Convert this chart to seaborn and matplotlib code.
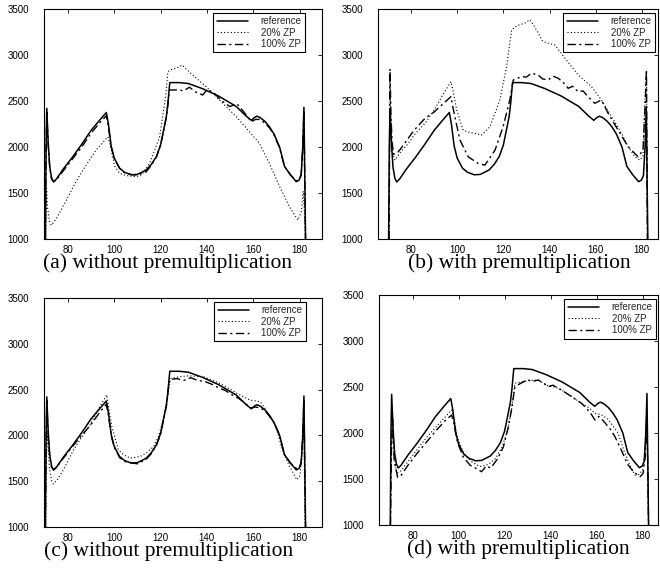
import matplotlib
matplotlib.use("Agg")
import matplotlib.pyplot as plt
import seaborn as sns

# ---------------- data ----------------
REF_X = [70.3, 70.6, 70.9, 71.5, 72.2, 73.0, 73.8, 75.0, 78.0, 82.0, 86.0, 90.0, 94.0, 96.6, 97.5, 98.7, 100.0,
         102.3, 104.5, 107.4, 110.0, 113.8, 116.0, 118.2, 120.0, 121.3, 122.5, 123.2, 123.7, 124.0, 128.0, 132.0,
         138.0, 145.0, 152.7, 157.0, 159.2, 160.5, 161.6, 163.0, 165.0, 167.0, 169.0, 171.4, 173.5, 176.0, 178.6,
         179.8, 180.7, 181.4, 181.9, 182.3, 182.6]
REF_Y = [1000, 2000, 2420, 2050, 1780, 1660, 1620, 1650, 1760, 1890, 2030, 2180, 2300, 2375, 2250, 2010, 1880,
         1770, 1725, 1698, 1702, 1750, 1810, 1895, 2020, 2180, 2330, 2480, 2620, 2700, 2700, 2690,
         2635, 2555, 2440, 2335, 2290, 2320, 2335, 2320, 2280, 2220, 2140, 2000, 1790, 1700, 1623,
         1640, 1690, 2000, 2430, 1600, 1000]

# (a) without premultiplication
A20_X = [70.4, 70.8, 71.2, 72.0, 72.8, 75.0, 79.3, 83.0, 86.5, 92.3, 97.3, 98.5, 100.2, 102.3, 105.0, 109.5, 112.0,
         115.3, 119.6, 122.2, 123.2, 124.6, 127.0, 129.4, 131.0, 134.0, 139.7, 145.5, 152.7, 158.4, 162.7, 167.0,
         171.4, 175.7, 179.3, 180.8, 181.6, 182.1, 182.5]
A20_Y = [1000, 1550, 1350, 1200, 1150, 1220, 1420, 1600, 1750, 1970, 2110, 2000, 1790, 1715, 1690, 1677, 1700,
         1822, 2110, 2550, 2820, 2840, 2860, 2890, 2850, 2780, 2655, 2510, 2330, 2165, 2040, 1820,
         1570, 1350, 1205, 1300, 1520, 1300, 1000]
A100_X = [70.3, 70.6, 70.9, 71.5, 72.2, 73.0, 73.8, 75.0, 78.0, 82.0, 86.0, 90.0, 94.0, 96.6, 97.5, 98.7, 100.0,
          102.3, 104.5, 107.4, 110.0, 113.8, 116.0, 118.2, 120.0, 121.3, 122.5, 123.2, 123.7, 124.0, 128.0, 130.0,
          132.5, 135.0, 138.2, 140.0, 142.6, 146.0, 149.9, 153.0, 156.0, 159.2, 161.0, 163.0, 165.0, 167.0, 169.0,
          171.4, 173.5, 176.0, 178.6, 179.8, 180.7, 181.4, 181.9, 182.3, 182.6]
A100_Y = [1000, 1950, 2380, 2020, 1770, 1650, 1625, 1640, 1740, 1870, 2000, 2150, 2270, 2340, 2220, 2000, 1880,
          1770, 1720, 1700, 1695, 1730, 1800, 1890, 2020, 2170, 2320, 2460, 2600, 2620, 2620, 2610,
          2650, 2600, 2565, 2620, 2600, 2510, 2440, 2470, 2380, 2275, 2300, 2300, 2260, 2210, 2130,
          1990, 1790, 1700, 1630, 1650, 1700, 2000, 2400, 1600, 1000]

# (b) with premultiplication
B20_X = [70.5, 70.9, 71.3, 71.8, 73.1, 75.0, 78.8, 82.0, 86.1, 90.0, 93.3, 97.3, 98.3, 99.8, 102.6, 105.0, 107.7,
         110.6, 114.2, 118.5, 121.4, 123.6, 126.0, 129.3, 131.5, 133.0, 135.1, 137.0, 139.4, 142.3, 146.7, 152.4,
         158.2, 162.5, 166.9, 171.2, 174.1, 177.0, 179.1, 180.5, 181.5, 182.0, 182.4]
B20_Y = [1000, 2700, 2300, 1950, 1857, 1930, 2039, 2150, 2257, 2400, 2547, 2710, 2600, 2402, 2184, 2160, 2148,
         2130, 2220, 2511, 2874, 3273, 3320, 3346, 3383, 3330, 3237, 3150, 3128, 3110, 2965, 2783,
         2656, 2511, 2329, 2148, 2002, 1893, 1857, 1900, 2600, 2800, 1000]
B100_X = [70.5, 70.9, 71.3, 71.8, 72.5, 74.5, 77.0, 80.3, 83.0, 86.1, 90.0, 93.3, 97.3, 98.0, 99.0, 101.2, 104.8,
          109.1, 112.0, 116.4, 119.9, 122.8, 124.3, 127.9, 130.0, 132.2, 135.1, 137.0, 139.4, 141.5, 143.8, 146.0,
          148.1, 150.0, 152.4, 154.5, 156.7, 159.6, 162.5, 165.4, 169.7, 174.1, 178.4, 180.5, 181.5, 182.0, 182.4]
B100_Y = [1000, 2850, 2350, 2050, 1920, 1948, 2030, 2148, 2230, 2312, 2380, 2456, 2547, 2450, 2329, 2075, 1893,
          1821, 1803, 1966, 2220, 2511, 2729, 2765, 2760, 2802, 2783, 2740, 2729, 2770, 2747, 2700,
          2638, 2660, 2601, 2610, 2547, 2475, 2511, 2366, 2184, 2002, 1893, 1966, 2500, 2840, 1000]

# (c) without premultiplication
C20_X = [70.4, 70.8, 71.3, 72.0, 73.0, 73.8, 75.5, 78.1, 82.4, 86.0, 89.6, 93.0, 96.8, 97.6, 99.0, 101.8, 104.0,
         106.9, 111.2, 114.0, 117.0, 119.0, 121.0, 122.5, 123.5, 124.3, 128.0, 132.0, 138.5, 145.7, 152.9, 158.6,
         163.0, 165.0, 167.3, 170.0, 172.5, 175.0, 178.8, 180.2, 181.3, 181.9, 182.4]
C20_Y = [1000, 1800, 2000, 1650, 1500, 1470, 1520, 1624, 1842, 1980, 2114, 2280, 2443, 2300, 2096, 1842, 1790,
         1752, 1769, 1810, 1878, 1980, 2150, 2300, 2500, 2620, 2640, 2650, 2641, 2568, 2460, 2386,
         2368, 2300, 2205, 2080, 1850, 1700, 1515, 1560, 1900, 2100, 1000]
C100_X = [70.3, 70.6, 70.9, 71.5, 72.2, 73.0, 73.8, 75.0, 78.0, 82.0, 86.0, 90.0, 94.0, 96.6, 97.5, 98.7, 100.0,
          102.3, 104.5, 107.4, 110.0, 113.8, 116.0, 118.2, 120.0, 121.3, 122.5, 123.2, 123.7, 124.2, 127.0, 130.0,
          133.0, 136.0, 139.0, 142.0, 145.0, 148.0, 151.0, 154.0, 157.0, 159.2, 161.0, 163.0, 165.0, 167.0, 169.0,
          171.4, 173.5, 176.0, 178.6, 179.8, 180.7, 181.4, 181.9, 182.3, 182.6]
C100_Y = [1000, 1900, 2380, 2000, 1760, 1650, 1630, 1650, 1750, 1880, 2000, 2120, 2260, 2340, 2220, 2000, 1870,
          1760, 1715, 1700, 1690, 1740, 1800, 1890, 2010, 2170, 2320, 2470, 2580, 2610, 2620, 2600,
          2630, 2600, 2590, 2560, 2520, 2490, 2440, 2400, 2340, 2300, 2310, 2300, 2270, 2210, 2140,
          2000, 1790, 1700, 1640, 1650, 1700, 2000, 2400, 1600, 1000]

# (d) with premultiplication
D20_X = [70.4, 70.8, 71.3, 72.0, 73.1, 75.0, 78.0, 82.0, 86.0, 90.0, 94.0, 97.0, 98.0, 99.5, 102.0, 105.0, 108.0,
         110.0, 113.0, 116.0, 119.0, 121.5, 123.0, 124.5, 128.0, 131.0, 134.6, 137.0, 139.0, 142.0, 144.8, 149.0,
         153.5, 157.0, 159.3, 162.0, 165.0, 169.4, 172.0, 174.5, 176.7, 178.5, 180.0, 181.0, 181.7, 182.2, 182.6]
D20_Y = [1000, 1900, 2200, 1750, 1562, 1590, 1690, 1820, 1950, 2060, 2170, 2250, 2150, 1950, 1790, 1700, 1650,
         1634, 1660, 1720, 1850, 2050, 2250, 2540, 2560, 2570, 2576, 2540, 2510, 2500, 2467, 2400,
         2322, 2270, 2214, 2200, 2150, 1997, 1800, 1650, 1543, 1550, 1600, 1800, 2200, 1800, 1000]
D100_X = [70.4, 70.8, 71.3, 72.0, 73.5, 75.0, 78.0, 82.0, 86.0, 90.0, 94.0, 97.0, 98.0, 99.5, 102.0, 105.0, 108.0,
          110.0, 112.0, 114.0, 117.0, 119.5, 121.5, 123.0, 124.5, 127.0, 130.0, 132.0, 134.6, 137.0, 139.0, 141.0,
          144.8, 147.0, 150.0, 153.5, 157.0, 159.3, 161.0, 163.0, 166.0, 168.0, 171.0, 173.5, 176.0, 178.9, 180.2,
          181.2, 181.8, 182.2, 182.6]
D100_Y = [1000, 1800, 2150, 1700, 1518, 1540, 1650, 1780, 1900, 2020, 2130, 2196, 2100, 1900, 1740, 1650, 1610,
          1579, 1640, 1620, 1720, 1850, 2050, 2250, 2503, 2540, 2580, 2560, 2576, 2540, 2503, 2520,
          2467, 2430, 2380, 2322, 2230, 2141, 2180, 2130, 2040, 1960, 1800, 1660, 1580, 1525, 1560,
          1750, 2200, 1700, 1000]

SERIES_LABELS = ["reference", "20% ZP", "100% ZP"]
CAPTIONS = ["(a) without premultiplication", "(b) with premultiplication",
            "(c) without premultiplication", "(d) with premultiplication"]
X_TICKS = [80, 100, 120, 140, 160, 180]
Y_TICKS = [1000, 1500, 2000, 2500, 3000, 3500]

PANELS = [
    (A20_X, A20_Y, A100_X, A100_Y),
    (B20_X, B20_Y, B100_X, B100_Y),
    (C20_X, C20_Y, C100_X, C100_Y),
    (D20_X, D20_Y, D100_X, D100_Y),
]

# ---------------- style / layout ----------------
sns.set_style("white")
plt.rcParams["font.family"] = ["Liberation Sans", "DejaVu Sans"]

W, H = 660, 576
fig = plt.figure(figsize=(W / 100, H / 100), dpi=100)

# axes boxes in pixels: left, right, top, bottom
BOXES = [(44, 322, 9, 239), (378, 658, 9, 239), (44, 322, 298, 527), (379, 658, 295, 525)]
XLIMS = [(69.7, 189.7), (65.7, 187.0), (69.7, 189.7), (65.4, 186.7)]
LEG_ANCHOR = [(0.939, 0.984), (0.989, 0.984), (0.942, 0.984), (0.993, 0.983)]
CAP_POS = [(168, 263), (519, 263), (169, 551), (518, 549)]

styles = [
    dict(linestyle="-", linewidth=1.1),
    dict(linestyle=(0, (1, 2)), linewidth=0.8),
    dict(linestyle=(0, (6, 2.5, 1.5, 2.5)), linewidth=1.0),
]

for i, (x20, y20, x100, y100) in enumerate(PANELS):
    l, r, t, b = BOXES[i]
    ax = fig.add_axes([l / W, 1 - b / H, (r - l) / W, (b - t) / H])
    sns.lineplot(x=REF_X, y=REF_Y, ax=ax, color="black", sort=False, estimator=None,
                 label=SERIES_LABELS[0], **styles[0])
    sns.lineplot(x=x20, y=y20, ax=ax, color="black", sort=False, estimator=None,
                 label=SERIES_LABELS[1], **styles[1])
    sns.lineplot(x=x100, y=y100, ax=ax, color="black", sort=False, estimator=None,
                 label=SERIES_LABELS[2], **styles[2])
    ax.set_xlim(*XLIMS[i])
    ax.set_ylim(1000, 3500)
    ax.set_xticks(X_TICKS)
    ax.set_yticks(Y_TICKS)
    ax.set_xlabel("")
    ax.set_ylabel("")
    for s in ax.spines.values():
        s.set_visible(True)
        s.set_color("black")
        s.set_linewidth(0.8)
    ax.tick_params(direction="in", top=True, right=True, length=3, width=0.6,
                   labelsize=7, colors="black")
    ax.tick_params(axis="y", pad=11)
    ax.tick_params(axis="x", pad=4)
    leg = ax.legend(loc="upper right", bbox_to_anchor=LEG_ANCHOR[i], borderaxespad=0,
                    fontsize=7, frameon=True, fancybox=False, framealpha=1,
                    edgecolor="black", handlelength=3.2, handletextpad=1.3,
                    borderpad=0.35, labelspacing=0.15)
    leg.get_frame().set_linewidth(0.8)
    cx, cy = CAP_POS[i]
    fig.text(cx / W, 1 - cy / H, CAPTIONS[i], ha="center", va="center",
             fontsize=15.5, family=["Liberation Serif", "DejaVu Serif"], color="black")

fig.savefig("out.png", dpi=100, facecolor="white")
